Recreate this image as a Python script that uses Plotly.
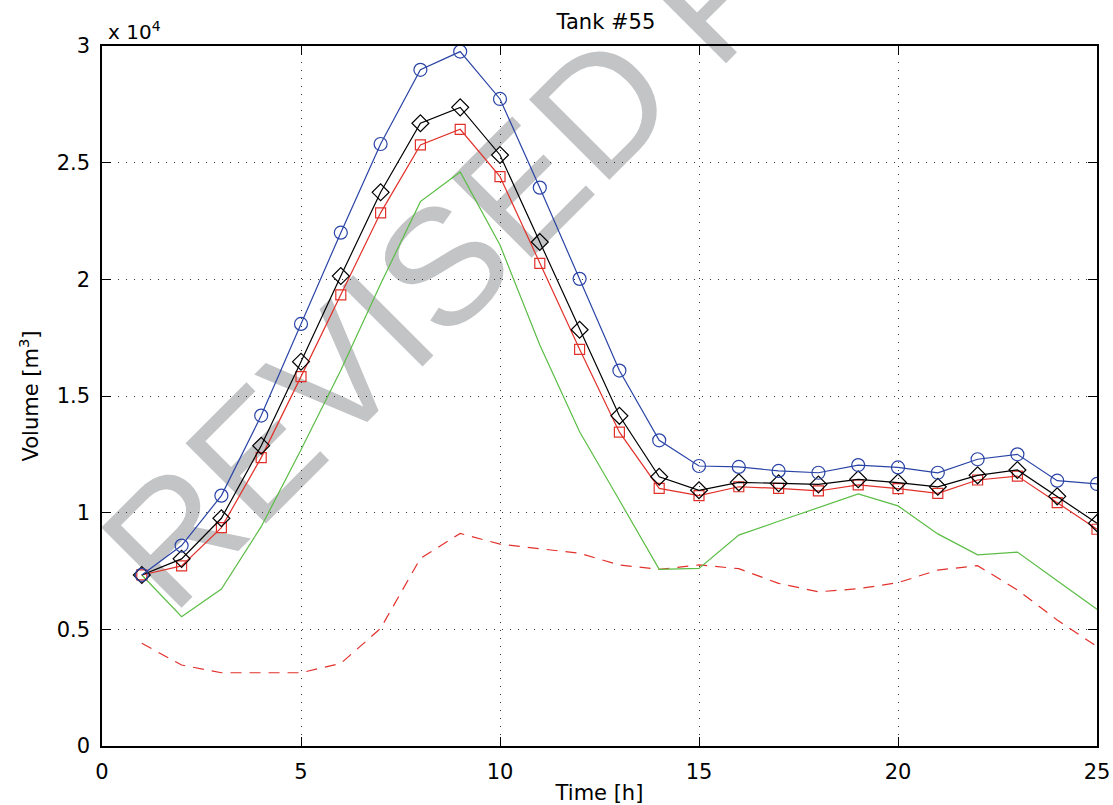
import plotly.graph_objects as go

hours = list(range(1, 26))
vol_circle = [7330, 8590, 10730, 14160, 18090, 22000, 25800, 28980, 29760, 27730, 23930, 20020, 16090,
              13100, 12000, 11960, 11790, 11710, 12040, 11940, 11710, 12290, 12500, 11370, 11230]
vol_diamond = [7330, 8020, 9760, 12870, 16470, 20140, 23730, 26690, 27370, 25330, 21600, 17840, 14150,
               11540, 10960, 11300, 11260, 11210, 11430, 11290, 11110, 11600, 11830, 10700, 9550]
vol_square = [7330, 7720, 9360, 12360, 15830, 19330, 22850, 25760, 26430, 24400, 20680, 17000, 13450,
              11040, 10730, 11110, 11040, 10930, 11190, 11030, 10830, 11400, 11570, 10430, 9290]
vol_green = [7330, 5540, 6730, 9400, 12700, 16100, 19800, 23330, 24600, 21470, 17190, 13470, 10530,
             7570, 7610, 9040, 9630, 10200, 10800, 10290, 9090, 8190, 8310, 7085, 5860]
vol_dashed = [4400, 3470, 3140, 3140, 3140, 3540, 5040, 8040, 9110, 8650, 8470, 8260, 7760,
              7570, 7760, 7600, 6970, 6610, 6740, 7000, 7540, 7730, 6690, 5400, 4260]

x_ticks = [0, 5, 10, 15, 20, 25]
y_ticks = [0, 5000, 10000, 15000, 20000, 25000, 30000]
y_tick_text = ["0", "0.5", "1", "1.5", "2", "2.5", "3"]

BLUE = "#2a44a6"
RED = "#e2302a"
GREEN = "#5bbd45"
FONT = "DejaVu Sans, Liberation Sans, Arial, sans-serif"
WM_FONT = "Liberation Sans, Arial, Helvetica, sans-serif"

fig = go.Figure()
fig.add_trace(go.Scatter(x=hours, y=vol_dashed, mode="lines",
                         line=dict(color=RED, width=1.2, dash="11px,8px")))
fig.add_trace(go.Scatter(x=hours, y=vol_green, mode="lines",
                         line=dict(color=GREEN, width=1.2)))
fig.add_trace(go.Scatter(x=hours, y=vol_square, mode="lines+markers",
                         line=dict(color=RED, width=1.2),
                         marker=dict(symbol="square-open", size=10, color=RED, line=dict(width=1.2))))
fig.add_trace(go.Scatter(x=hours, y=vol_diamond, mode="lines+markers",
                         line=dict(color="black", width=1.2),
                         marker=dict(symbol="diamond-open", size=13, color="black", line=dict(width=1.2))))
fig.add_trace(go.Scatter(x=hours, y=vol_circle, mode="lines+markers",
                         line=dict(color=BLUE, width=1.2),
                         marker=dict(symbol="circle-open", size=13, color=BLUE, line=dict(width=1.2))))

axis_common = dict(
    showline=True, linecolor="black", linewidth=1.5, mirror="ticks",
    ticks="inside", ticklen=9, tickwidth=1, tickcolor="black",
    showgrid=True, gridcolor="#333333", griddash="1px,7px", gridwidth=1,
    zeroline=False, tickfont=dict(family=FONT, size=21, color="black"),
    automargin=False, ticklabelstandoff=6,
)

fig.update_xaxes(range=[0, 25], tickvals=x_ticks, ticktext=[str(t) for t in x_ticks],
                 title=dict(text="Time [h]", font=dict(family=FONT, size=21, color="black"), standoff=2),
                 **axis_common)
fig.update_yaxes(range=[0, 30000], tickvals=y_ticks, ticktext=y_tick_text,
                 title=dict(text="Volume [m<sup>3</sup>]", font=dict(family=FONT, size=21, color="black"),
                            standoff=12),
                 **axis_common)

fig.add_annotation(xref="paper", yref="paper", x=0.004, y=1.0, xanchor="left", yanchor="bottom",
                   text="x 10<sup>4</sup>", showarrow=False, yshift=0,
                   font=dict(family=FONT, size=20, color="black"))

# watermark
fig.add_shape(type="rect", xref="paper", yref="paper", x0=0.4505, x1=0.5505, y0=0.893, y1=0.993,
              layer="between", line=dict(width=0), fillcolor="rgba(0,0,0,0)",
              label=dict(text="REVISED PROOF", textangle=-45, textposition="middle center",
                         font=dict(family=WM_FONT, size=165, color="#c3c4c6")))

fig.update_layout(
    width=1113, height=805,
    margin=dict(l=102, r=16, t=46, b=59, autoexpand=False),
    paper_bgcolor="white", plot_bgcolor="white",
    showlegend=False,
    title=dict(text="Tank #55", x=0.5065, xref="paper", xanchor="center", y=0.9727, yanchor="middle",
               font=dict(family=FONT, size=21, color="black")),
)

fig.write_html("out.html", config={"displayModeBar": False},
               post_script="document.body.style.margin='0';document.body.style.overflow='hidden';")
